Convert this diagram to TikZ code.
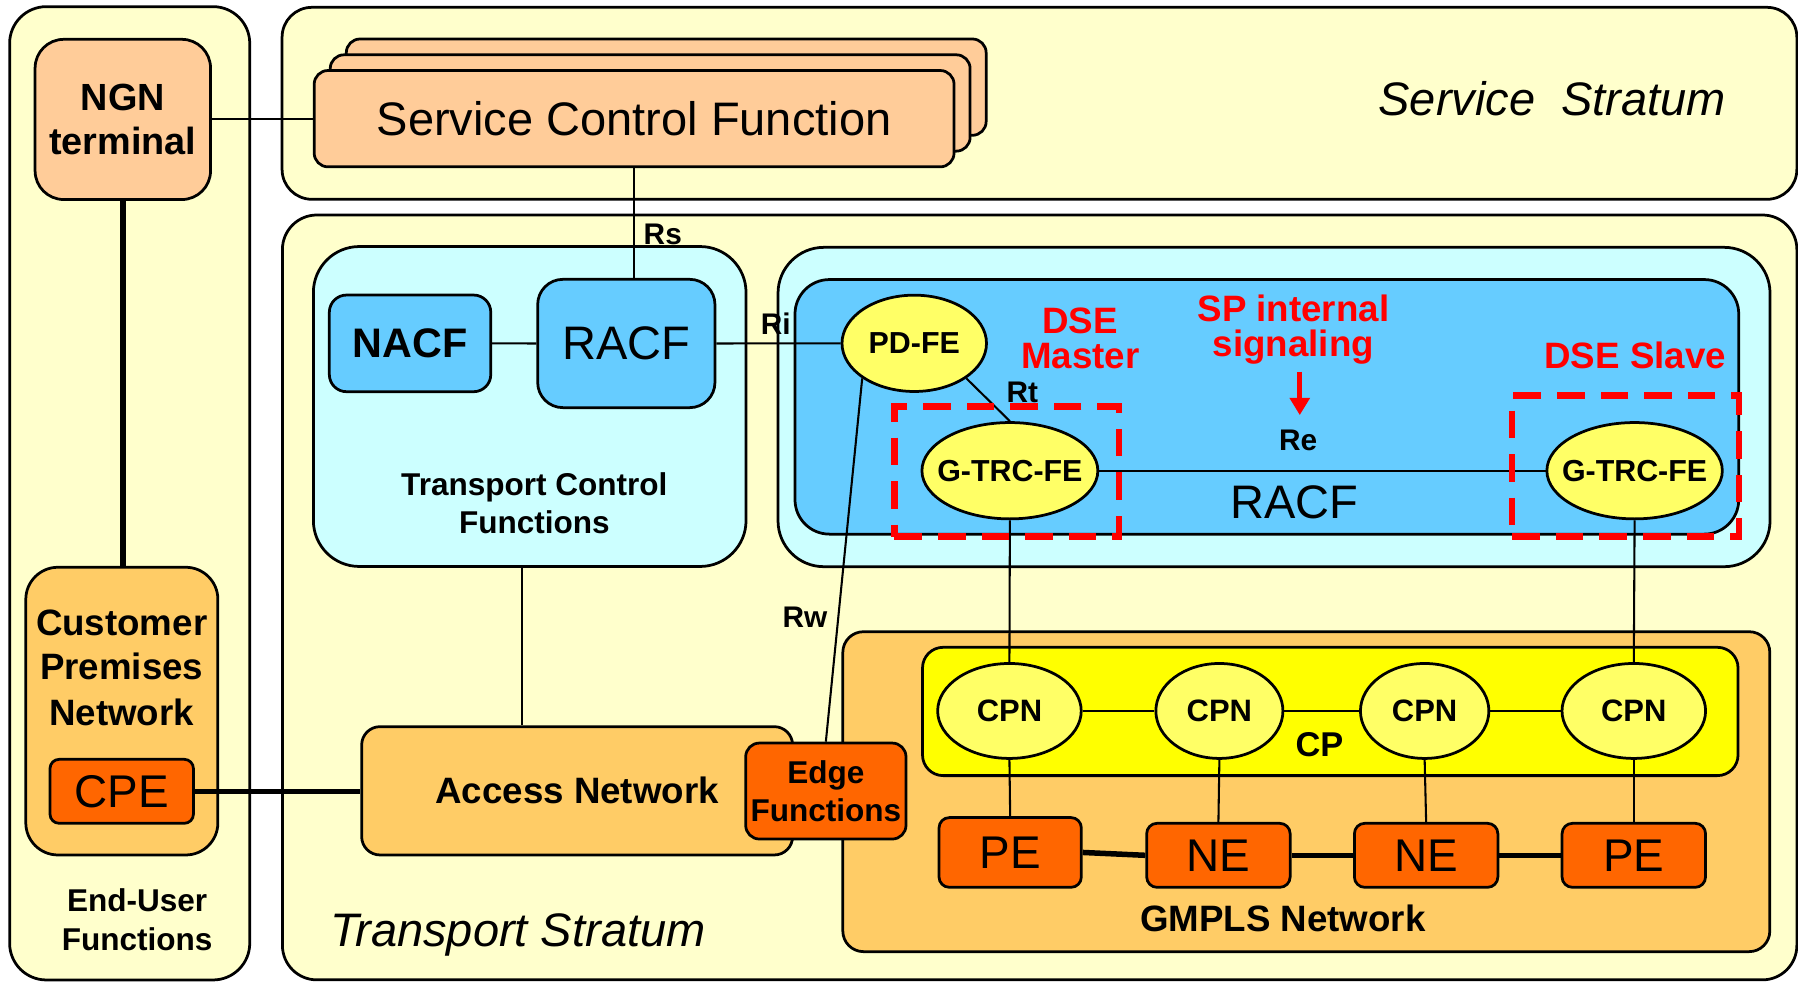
\documentclass[tikz,border=0pt]{standalone}
\usepackage{fontspec}
\setmainfont{Liberation Sans}
\usetikzlibrary{arrows.meta,shapes.geometric}

\definecolor{stratum}{HTML}{FFFFCC}
\definecolor{peach}{HTML}{FFCC99}
\definecolor{paleblue}{HTML}{CCFFFF}
\definecolor{skyblue}{HTML}{66CCFF}
\definecolor{lemon}{HTML}{FFFF66}
\definecolor{cpyellow}{HTML}{FFFF00}
\definecolor{apricot}{HTML}{FFCC66}
\definecolor{deeporange}{HTML}{FF6600}
\definecolor{signal}{HTML}{FF0000}

\newcommand\pxfont[1]{\fontsize{#1}{#1}\selectfont}

\begin{document}
\begin{tikzpicture}[x=1pt,y=-1pt,
  panel/.style={draw=black, line width=2.4pt, inner sep=0pt},
  ell/.style={ellipse, draw=black, line width=2.4pt, fill=lemon, inner sep=0pt,
              font=\pxfont{26.5}\bfseries},
  wire/.style={line width=1.8pt},
  trunk/.style={line width=4.8pt},
  lbl/.style={inner sep=0pt, anchor=base},
  tag/.style={lbl, font=\pxfont{26}\bfseries},
  redtxt/.style={lbl, text=signal, font=\pxfont{32}\bfseries},
  dsebox/.style={draw=signal, line width=5.5pt, dash pattern=on 24pt off 14pt, inner sep=0pt},
  sigarrow/.style={draw=signal, line width=4.5pt, -{Triangle[width=17pt,length=15pt]}}
]
\useasboundingbox (0,0) rectangle (1568,856);

% ---- strata and end-user area ----
\node[panel, fill=stratum, rounded corners=32pt, minimum width=209.4pt, minimum height=848.8pt] (enduser) at (113.1,430.2) {};
\node[panel, fill=stratum, rounded corners=26pt, minimum width=1321pt, minimum height=167.4pt] (service) at (906.5,90.1) {};
\node[panel, fill=stratum, rounded corners=30pt, minimum width=1320.7pt, minimum height=667pt] (transport) at (906.65,521) {};

\node[lbl, anchor=base west, font=\pxfont{41}\itshape] (servicelbl) at (1202,100.3) {Service\ \ Stratum};
\node[lbl, anchor=base west, font=\pxfont{41}\itshape] (transportlbl) at (287.8,825.6) {Transport Stratum};

% ---- service control functions (stacked) ----
\node[panel, fill=peach, rounded corners=12pt, minimum width=558pt, minimum height=84pt] (scfc) at (581,76) {};
\node[panel, fill=peach, rounded corners=12pt, minimum width=558pt, minimum height=84pt] (scfb) at (567,89.8) {};
\node[panel, fill=peach, rounded corners=12pt, minimum width=558pt, minimum height=84pt, font=\pxfont{41}] (scf) at (553,103.5) {Service Control Function};

% ---- end-user functions ----
\node[panel, fill=peach, rounded corners=25pt, minimum width=153pt, minimum height=139.7pt, align=center,
      font=\fontsize{33}{38}\selectfont\bfseries] (ngn) at (107.1,104.15) {NGN\\terminal};
\node[panel, fill=apricot, rounded corners=28pt, minimum width=167.5pt, minimum height=250.9pt] (cpnet) at (106.25,620.15) {};
\node[lbl, font=\pxfont{32}\bfseries] (cpn-l1) at (106.1,554.6) {Customer};
\node[lbl, font=\pxfont{32}\bfseries] (cpn-l2) at (106.1,593) {Premises};
\node[lbl, font=\pxfont{32}\bfseries] (cpn-l3) at (106.1,632.3) {Network};
\node[panel, fill=deeporange, rounded corners=8pt, minimum width=125.1pt, minimum height=55.8pt, font=\pxfont{40}] (cpe) at (106.15,690.1) {CPE};
\node[lbl, font=\pxfont{27.5}\bfseries] (eu-l1) at (119.6,794.6) {End-User};
\node[lbl, font=\pxfont{27.5}\bfseries] (eu-l2) at (119.6,828.5) {Functions};

% ---- transport control functions ----
\node[panel, fill=paleblue, rounded corners=40pt, minimum width=377.3pt, minimum height=279pt] (tcf) at (461.95,354.5) {};
\node[lbl, font=\pxfont{27.5}\bfseries] (tcf-l1) at (466,431.7) {Transport Control};
\node[lbl, font=\pxfont{27.5}\bfseries] (tcf-l2) at (466,465) {Functions};
\node[panel, fill=skyblue, rounded corners=15pt, minimum width=140.8pt, minimum height=84.3pt, font=\pxfont{36}\bfseries] (nacf) at (357.6,299.45) {NACF};
\node[panel, fill=skyblue, rounded corners=22pt, minimum width=154.6pt, minimum height=111.9pt, font=\pxfont{41}] (racf) at (546.2,299.55) {RACF};

% ---- RACF with DSE ----
\node[panel, fill=paleblue, rounded corners=40pt, minimum width=865.1pt, minimum height=278.5pt] (racfo) at (1111.05,354.95) {};
\node[panel, fill=skyblue, rounded corners=30pt, minimum width=823pt, minimum height=222pt] (racfi) at (1104.8,354.8) {};
\node[ell, minimum width=126pt, minimum height=84pt] (pdfe) at (797.3,299.4) {PD-FE};
\node[ell, minimum width=153.4pt, minimum height=84pt] (gtrc1) at (880.7,410.5) {\makebox[0pt]{G-TRC-FE}};
\node[ell, minimum width=153pt, minimum height=84pt] (gtrc2) at (1425.5,410.5) {\makebox[0pt]{G-TRC-FE}};
\node[lbl, font=\pxfont{41}] (racflbl) at (1128.5,451.9) {RACF};

% ---- GMPLS network ----
\node[panel, fill=apricot, rounded corners=18pt, minimum width=808.4pt, minimum height=279pt] (gmpls) at (1139.2,690.4) {};
\node[panel, fill=cpyellow, rounded corners=18pt, minimum width=711.2pt, minimum height=111.9pt] (cp) at (1160.1,620.45) {};
\node[ell, font=\pxfont{27}\bfseries, minimum width=125.2pt, minimum height=82.8pt] (cpn1) at (880.3,620) {CPN};
\node[ell, font=\pxfont{27}\bfseries, minimum width=110.8pt, minimum height=82.8pt] (cpn2) at (1063.4,620) {CPN};
\node[ell, font=\pxfont{27}\bfseries, minimum width=112pt, minimum height=82.8pt] (cpn3) at (1242.4,620) {CPN};
\node[ell, font=\pxfont{27}\bfseries, minimum width=125.2pt, minimum height=82.8pt] (cpn4) at (1424.8,620) {CPN};
\node[lbl, font=\pxfont{30}\bfseries] (cplbl) at (1150.7,659.3) {CP};
\node[panel, fill=deeporange, rounded corners=9pt, minimum width=124.1pt, minimum height=60.8pt, font=\pxfont{40}] (pe1) at (880.95,743.4) {PE};
\node[panel, fill=deeporange, rounded corners=9pt, minimum width=125.1pt, minimum height=55.8pt, font=\pxfont{40}] (ne1) at (1062.55,745.9) {NE};
\node[panel, fill=deeporange, rounded corners=9pt, minimum width=125.1pt, minimum height=55.8pt, font=\pxfont{40}] (ne2) at (1243.7,745.9) {NE};
\node[panel, fill=deeporange, rounded corners=9pt, minimum width=125.1pt, minimum height=55.8pt, font=\pxfont{40}] (pe2) at (1424.8,745.9) {PE};
\node[lbl, font=\pxfont{32}\bfseries] (gmplslbl) at (1118.8,812.5) {GMPLS Network};

% ---- access network ----
\node[panel, fill=apricot, rounded corners=16pt, minimum width=375.8pt, minimum height=111.9pt, font=\pxfont{32}\bfseries] (access) at (503.3,689.65) {Access Network};
\node[panel, fill=deeporange, rounded corners=12pt, minimum width=139.8pt, minimum height=83.7pt, align=center,
      font=\fontsize{27.5}{33.6}\selectfont\bfseries] (edge) at (720.2,689.85) {Edge\\Functions};

% ---- connectors ----
\draw[wire] (ngn.east) -- (scf.west |- ngn.east);
\draw[trunk] (ngn.south) -- (ngn.south |- cpnet.north);
\draw[trunk] (cpe.east) -- (access.west |- cpe.east);
\draw[wire] (scf.south) -- (scf.south |- racf.north);
\draw[wire] (nacf.east) -- (racf.west);
\draw[wire] (racf.east) -- (pdfe.west);
\draw[wire] (pdfe.south east) -- (gtrc1.north);
\draw[wire] (pdfe.south west) -- (edge.north);
\draw[wire] (gtrc1.east) -- (gtrc2.west);
\draw[wire] (gtrc1.south) -- (cpn1.north);
\draw[wire] (gtrc2.south) -- (cpn4.north);
\draw[wire] ([xshift=-6.4pt]tcf.south) -- ([xshift=-6.4pt]tcf.south |- access.north);
\draw[wire] (cpn1.east) -- (cpn2.west);
\draw[wire] (cpn2.east) -- (cpn3.west);
\draw[wire] (cpn3.east) -- (cpn4.west);
\draw[wire] (cpn1.south) -- (pe1.north);
\draw[wire] (cpn2.south) -- (ne1.north);
\draw[wire] (cpn3.south) -- (ne2.north);
\draw[wire] (cpn4.south) -- (pe2.north);
\draw[trunk] (pe1.east) -- (ne1.west);
\draw[trunk] (ne1.east) -- (ne2.west);
\draw[trunk] (ne2.east) -- (pe2.west);

% ---- reference point names ----
\node[tag] (rs) at (578,212.8) {Rs};
\node[tag] (ri) at (676.5,292) {Ri};
\node[tag] (rt) at (891.5,350.9) {Rt};
\node[tag] (re) at (1132,393) {Re};
\node[tag] (rw) at (702,547) {Rw};

% ---- DSE roles and signalling ----
\node[dsebox, minimum width=195.8pt, minimum height=113.4pt] (dsem) at (877.9,411.3) {};
\node[dsebox, minimum width=198pt, minimum height=123pt] (dses) at (1417.8,406.5) {};
\node[redtxt] (dsem-l1) at (942,290.7) {DSE};
\node[redtxt] (dsem-l2) at (942,321.2) {Master};
\node[redtxt] (sp-l1) at (1128,280) {SP internal};
\node[redtxt] (sp-l2) at (1128,311) {signaling};
\node[redtxt] (dseslbl) at (1426,321.2) {DSE Slave};
\coordinate (sigtail) at (1133.5,324);
\coordinate (sigtip) at (1133.5,362);
\draw[sigarrow] (sigtail) -- (sigtip);
\end{tikzpicture}
\end{document}
